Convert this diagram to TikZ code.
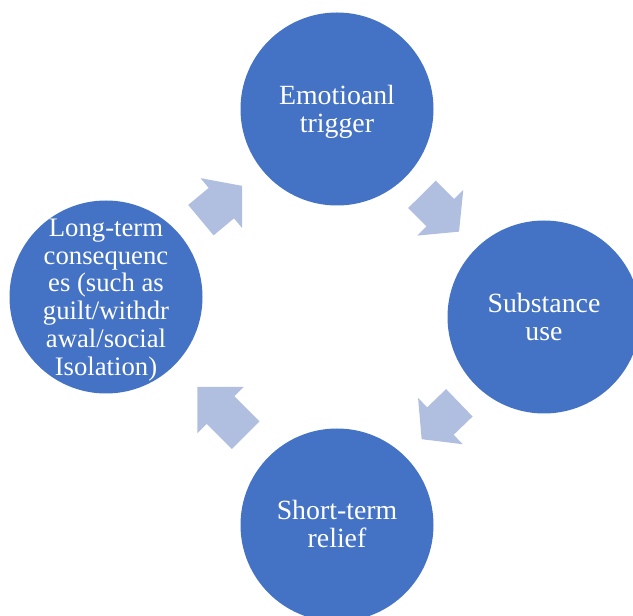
\documentclass[tikz,border=0pt]{standalone}
\usepackage{fontspec}
\setmainfont{Liberation Serif}
\usetikzlibrary{calc}
\definecolor{circblue}{HTML}{4472C4}
\definecolor{arrblue}{RGB}{176,190,224}
\tikzset{
  stagecircle/.style={circle, fill=circblue, draw=none, minimum size=193pt, inner sep=0pt},
  stagetext/.style={text=white, align=center, inner sep=0pt, font=\fontsize{27.8}{27.3}\selectfont},
  stagetextsmall/.style={text=white, align=center, inner sep=0pt, font=\fontsize{26.7}{27.8}\selectfont},
  cyclearrowfill/.style={fill=arrblue, draw=none}
}
% #1 centre, #2 angle, #3 length, #4 head length, #5 shaft width, #6 head width
\newcommand\cycarrow[6]{%
  \fill[cyclearrowfill, shift={#1}, rotate=#2]
    ({-#3/2},{-#5/2}) -- ({#3/2-#4},{-#5/2}) -- ({#3/2-#4},{-#6/2}) --
    ({#3/2},0) -- ({#3/2-#4},{#6/2}) -- ({#3/2-#4},{#5/2}) --
    ({-#3/2},{#5/2}) -- cycle;}
\begin{document}
\begin{tikzpicture}[x=1pt,y=1pt]
  \useasboundingbox (0,0) rectangle (633,616);
  \node[stagecircle, label={[stagetext, yshift=-3pt]center:Emotioanl\\trigger}] (top) at (337,507) {};
  \node[stagecircle, label={[stagetext]center:Substance\\use}] (right) at (544,299) {};
  \node[stagecircle, label={[stagetext, yshift=1pt]center:Short-term\\relief}] (bottom) at (337,91) {};
  \node[stagecircle, label={[stagetextsmall, yshift=-3pt]center:Long-term\\consequenc\\es (such as\\guilt/withdr\\awal/social\\Isolation)}] (left) at (106,319) {};
  \cycarrow{($(left)!0.5!(top)$)}{39.8}{53.6}{27}{39.6}{65}
  \cycarrow{($(top)!0.5!(right)$)}{-45.2}{52.6}{26.6}{38.9}{64.8}
  \cycarrow{($(right)!0.5!(bottom)$)}{-136}{52.4}{26.1}{38.1}{64.4}
  \cycarrow{($(bottom)!0.5!(left)$)}{135}{68.5}{33}{38.9}{66}
\end{tikzpicture}
\end{document}
